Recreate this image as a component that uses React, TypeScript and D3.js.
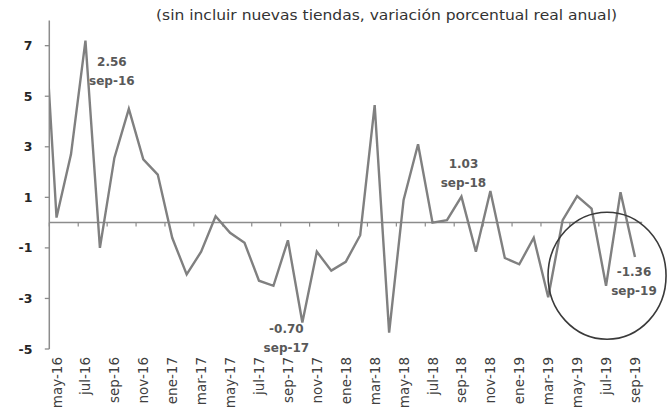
import React from 'react';
import * as d3 from 'd3';

// monthly series; abr-16 sits left of the axis and is clipped like in the source
const months = [
  'abr-16', 'may-16', 'jun-16', 'jul-16', 'ago-16', 'sep-16', 'oct-16', 'nov-16', 'dic-16',
  'ene-17', 'feb-17', 'mar-17', 'abr-17', 'may-17', 'jun-17', 'jul-17', 'ago-17', 'sep-17', 'oct-17', 'nov-17', 'dic-17',
  'ene-18', 'feb-18', 'mar-18', 'abr-18', 'may-18', 'jun-18', 'jul-18', 'ago-18', 'sep-18', 'oct-18', 'nov-18', 'dic-18',
  'ene-19', 'feb-19', 'mar-19', 'abr-19', 'may-19', 'jun-19', 'jul-19', 'ago-19', 'sep-19',
];
const values = [
  9.8, 0.2, 2.7, 7.2, -1.0, 2.56, 4.5, 2.5, 1.9,
  -0.6, -2.05, -1.15, 0.25, -0.4, -0.8, -2.3, -2.5, -0.7, -3.95, -1.15, -1.9,
  -1.55, -0.5, 4.65, -4.35, 0.9, 3.1, 0.0, 0.1, 1.03, -1.15, 1.25, -1.4,
  -1.65, -0.6, -2.95, 0.1, 1.05, 0.55, -2.5, 1.2, -1.36,
];
const yTicks = [-5, -3, -1, 1, 3, 5, 7];
const tickLabels = [
  'may-16', 'jul-16', 'sep-16', 'nov-16', 'ene-17', 'mar-17', 'may-17', 'jul-17', 'sep-17', 'nov-17', 'ene-18',
  'mar-18', 'may-18', 'jul-18', 'sep-18', 'nov-18', 'ene-19', 'mar-19', 'may-19', 'jul-19', 'sep-19',
];
const noteMonths = ['sep-16', 'sep-17', 'sep-18', 'sep-19'];
const noteValues = ['2.56', '-0.70', '1.03', '-1.36'];
// pixel offsets of the note text from its point
const noteOffsets = [[-2.5, -92], [-1.5, 93], [2, -28.5], [-1, 19]];

const title = '(sin incluir nuevas tiendas, variación porcentual real anual)';

const W = 668;
const H = 415;
const FONT = '"DejaVu Sans", sans-serif';

export default function App() {
  const left = 49.3;
  const right = 642.2;
  // index 1 (may-16) is the first category on the axis
  const x = d3.scaleLinear().domain([0.5, months.length - 0.5]).range([left, right]);
  const y = d3.scaleLinear().domain([-5, 8]).range([349, 20.4]);
  const xi = (m: string) => x(months.indexOf(m));

  const line = d3.line<number>()
    .x((_, i) => x(i))
    .y(d => y(d));

  const tickPos = d3.range(0.5, months.length - 1, 2);

  return (
    <svg width={W} height={H} style={{ position: 'absolute', left: 0, top: 0, background: '#fff' }}
      fontFamily={FONT}>
      <defs>
        <clipPath id="plot">
          <rect x={left} y={0} width={right - left + 20} height={H} />
        </clipPath>
      </defs>

      <text x={156} y={20} fontSize={14} fill="#333" textLength={461} lengthAdjust="spacingAndGlyphs">{title}</text>

      {/* y axis */}
      <line x1={left} x2={left} y1={y(8)} y2={y(-5)} stroke="#8c8c8c" strokeWidth={1.5} />
      {yTicks.map(t => (
        <g key={t}>
          <line x1={left - 4.5} x2={left} y1={y(t)} y2={y(t)} stroke="#8c8c8c" strokeWidth={1.3} />
          <text x={32.5} y={y(t) + 4.5} textAnchor="end" fontSize={12.5} fontWeight={700} fill="#262626">{t}</text>
        </g>
      ))}

      {/* zero line with category ticks */}
      <line x1={left} x2={right} y1={y(0)} y2={y(0)} stroke="#8c8c8c" strokeWidth={1.5} />
      {tickPos.map(t => (
        <line key={t} x1={x(t)} x2={x(t)} y1={y(0)} y2={y(0) + 4} stroke="#8c8c8c" strokeWidth={1.2} />
      ))}

      {tickLabels.map(m => (
        <text key={m} transform={`translate(${xi(m) + 5},357) rotate(-90)`} textAnchor="end"
          fontSize={13.5} fill="#404040">{m}</text>
      ))}

      <path d={line(values) || ''} fill="none" stroke="#808080" strokeWidth={2.4}
        strokeLinejoin="miter" clipPath="url(#plot)" />

      {noteMonths.map((m, i) => {
        const px = xi(m) + noteOffsets[i][0];
        const py = y(values[months.indexOf(m)]) + noteOffsets[i][1];
        return (
          <text key={m} textAnchor="middle" fontSize={12} fontWeight={700} fill="#595959">
            <tspan x={px} y={py}>{noteValues[i]}</tspan>
            <tspan x={px} y={py + 19}>{m}</tspan>
          </text>
        );
      })}

      {/* highlight around the last months */}
      <ellipse cx={xi('jul-19') + 1} cy={y(-2.1)} rx={59} ry={63.5} fill="none" stroke="#3a3a3a" strokeWidth={1.6} />
    </svg>
  );
}
